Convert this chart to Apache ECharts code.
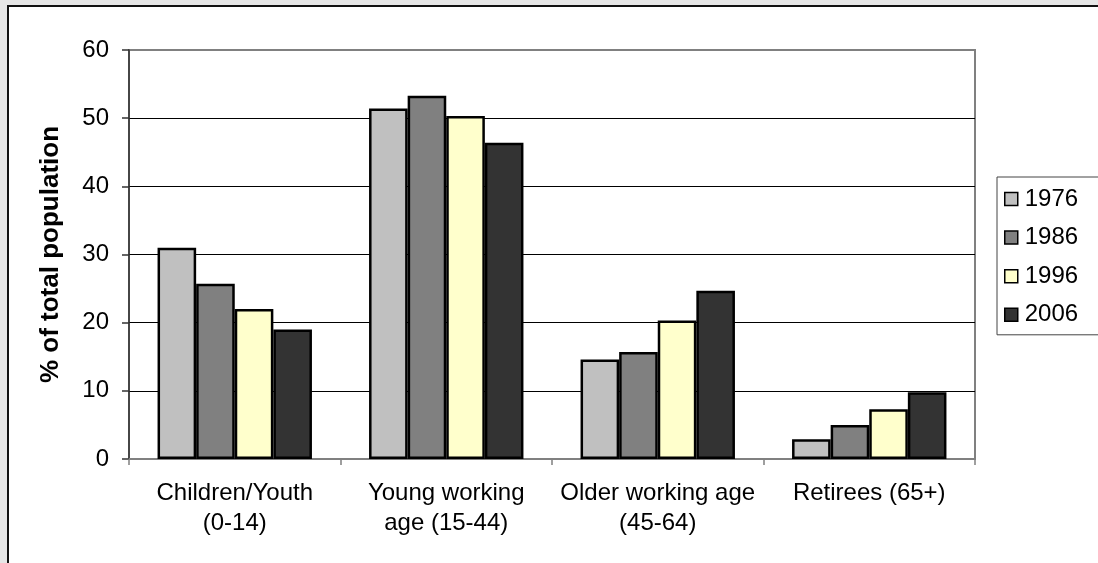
<!DOCTYPE html>
<html>
<head>
<meta charset="utf-8">
<script src="https://cdn.jsdelivr.net/npm/echarts@6/dist/echarts.min.js"></script>
<style>
  html, body { margin: 0; padding: 0; background: #e6e6e6; overflow: hidden; }
  #frame { position: absolute; left: 7px; top: 5px; width: 1200px; height: 700px;
           background: #ffffff; border: 2px solid #111; }
  #chart { position: absolute; left: 0; top: 0; width: 1098px; height: 563px; }
</style>
</head>
<body>
<div id="frame"></div>
<div id="chart"></div>
<script>
// Age groups along the x axis
const categories = [
  'Children/Youth\n(0-14)',
  'Young working\nage (15-44)',
  'Older working age\n(45-64)',
  'Retirees (65+)'
];
// Census years shown in the legend
const years = ['1976', '1986', '1996', '2006'];
// Share of total population (%) per age group, one array per year
const values1976 = [31.0, 51.4, 14.6, 2.9];
const values1986 = [25.7, 53.3, 15.7, 5.0];
const values1996 = [22.0, 50.3, 20.3, 7.3];
const values2006 = [19.0, 46.4, 24.7, 9.8];
// Y axis ticks
const yMin = 0, yMax = 60, yStep = 10;

const seriesValues = [values1976, values1986, values1996, values2006];
const fills = ['#c0c0c0', '#808080', '#ffffcc', '#333333'];

const font = '"Liberation Sans", Arial, sans-serif';

const chart = echarts.init(document.getElementById('chart'), null, { renderer: 'canvas' });

chart.setOption({
  backgroundColor: 'transparent',
  animation: false,
  textStyle: { fontFamily: font },
  grid: {
    left: 129, top: 50, right: 123, bottom: 104,
    show: true, borderColor: '#808080', borderWidth: 2, backgroundColor: 'transparent'
  },
  legend: {
    orient: 'vertical',
    left: 997, top: 177,
    padding: [9, 40, 7, 7],
    itemWidth: 13, itemHeight: 13, itemGap: 12.6,
    icon: 'rect',
    itemStyle: { borderColor: '#000', borderWidth: 1.5 },
    borderColor: '#444', borderWidth: 1,
    backgroundColor: '#fff',
    textStyle: { fontFamily: font, fontSize: 24, color: '#000', lineHeight: 26, padding: [0, 0, 0, 2] },
    data: years
  },
  xAxis: {
    type: 'category',
    data: categories,
    axisLine: { show: true, lineStyle: { color: '#808080', width: 2 } },
    axisTick: { show: true, alignWithLabel: false, length: 6, lineStyle: { color: '#808080', width: 1.5 } },
    axisLabel: { interval: 0, fontSize: 24, color: '#000', lineHeight: 30, margin: 19, fontFamily: font },
    splitLine: { show: false }
  },
  yAxis: {
    type: 'value',
    min: yMin, max: yMax, interval: yStep,
    name: '% of total population',
    nameLocation: 'middle',
    nameGap: 65,
    nameTextStyle: { fontSize: 26, fontWeight: 'bold', color: '#000', fontFamily: font },
    axisLine: { show: true, lineStyle: { color: '#333', width: 1.5 } },
    axisTick: { show: true, length: 7, lineStyle: { color: '#333', width: 1.5 } },
    axisLabel: { fontSize: 24, color: '#000', margin: 20, fontFamily: font },
    splitLine: { show: true, showMinLine: false, showMaxLine: false, lineStyle: { color: '#000', width: 1 } }
  },
  series: years.map((y, i) => ({
    name: y,
    type: 'bar',
    data: seriesValues[i],
    barGap: '0%',
    barCategoryGap: '27%',
    itemStyle: { color: fills[i], borderColor: '#000', borderWidth: 2.5 }
  }))
});
</script>
</body>
</html>
